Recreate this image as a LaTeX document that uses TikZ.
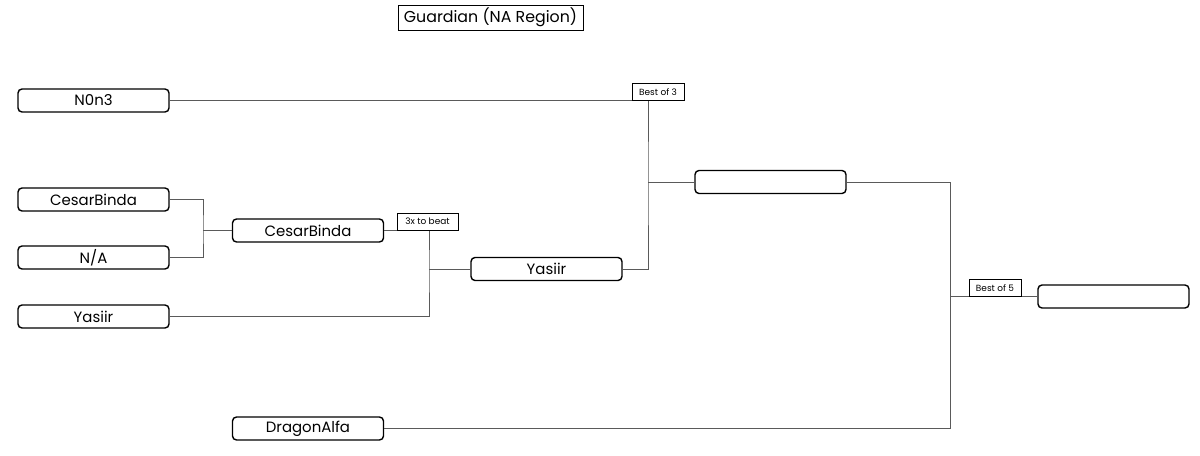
\documentclass[tikz,border=0pt]{standalone}
\usepackage{fontspec}
\setmainfont{Poppins}
\usetikzlibrary{positioning,calc}
\definecolor{wiregray}{RGB}{90,90,90}

\begin{document}
\begin{tikzpicture}[x=0.02cm,y=-0.02cm,
    player/.style={draw,thick,rounded corners=0.08cm,minimum width=3.02cm,
      minimum height=0.46cm,inner sep=0pt,font=\fontsize{8.5}{10}\selectfont},
    tag/.style={draw,thin,minimum height=0.34cm,inner sep=1pt,
      font=\fontsize{5.1}{6}\selectfont},
    wire/.style={draw=wiregray,thin}]
  \useasboundingbox (0,0) rectangle (1200,456);
  \node[draw,thin,minimum width=3.7cm,minimum height=0.5cm,inner sep=0pt,
    font=\fontsize{9}{10}\selectfont] (title) at (490.5,17.5) {Guardian (NA Region)};
  % first column
  \node[player] (nonthree) at (93.5,100.5) {N0n3};
  \node[player] (cesar) at (93.5,199.5) {CesarBinda};
  \node[player] (na) at (93.5,257.5) {N/A};
  \node[player] (yasiirA) at (93.5,316.5) {Yasiir};
  % later rounds
  \node[player] (cesarB) at (308,230.5) {CesarBinda};
  \node[player] (dragon) at (308,428.5) {DragonAlfa};
  \node[player] (yasiirB) at (546.5,269) {Yasiir};
  \node[player] (semi) at (770.5,182) {};
  \node[player] (final) at (1113.5,296.5) {};
  % joints
  \coordinate (jA) at (203,230.5);
  \coordinate (jB) at (429,269);
  \coordinate (jC) at (648,182);
  \coordinate (jD) at (950,296.5);
  \draw[wire] (cesar.east) -| (jA) |- (na.east);
  \draw[wire] (jA) -- (cesarB.west);
  \draw[wire] (cesarB.east) -| (jB) |- (yasiirA.east);
  \draw[wire] (jB) -- (yasiirB.west);
  \draw[wire] (nonthree.east) -| (jC) |- (yasiirB.east);
  \draw[wire] (jC) -- (semi.west);
  \draw[wire] (semi.east) -| (jD) |- (dragon.east);
  \draw[wire] (jD) -- (final.west);
  % match labels
  \node[tag,minimum width=1.04cm,anchor=south] (bo3) at (658,100.5) {Best of 3};
  \node[tag,minimum width=1.22cm,anchor=south] (beat) at (427.5,230.5) {3x to beat};
  \node[tag,minimum width=1.04cm,anchor=south] (bo5) at (995,296.5) {Best of 5};
\end{tikzpicture}
\end{document}
